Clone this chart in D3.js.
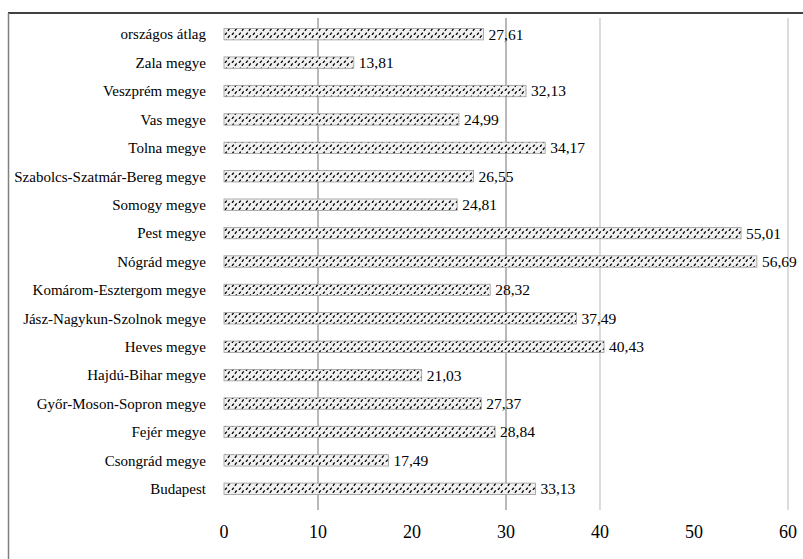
<!DOCTYPE html>
<html><head><meta charset="utf-8">
<script src="https://cdn.jsdelivr.net/npm/d3@7"></script>
<style>body{margin:0;background:#fff}svg{display:block}</style>
</head><body><svg id="c" width="803" height="559"></svg>
<script>
const categories = ["országos átlag","Zala megye","Veszprém megye","Vas megye","Tolna megye","Szabolcs-Szatmár-Bereg megye","Somogy megye","Pest megye","Nógrád megye","Komárom-Esztergom megye","Jász-Nagykun-Szolnok megye","Heves megye","Hajdú-Bihar megye","Győr-Moson-Sopron megye","Fejér megye","Csongrád megye","Budapest"];
const values = [27.61,13.81,32.13,24.99,34.17,26.55,24.81,55.01,56.69,28.32,37.49,40.43,21.03,27.37,28.84,17.49,33.13];
const valueLabels = ["27,61","13,81","32,13","24,99","34,17","26,55","24,81","55,01","56,69","28,32","37,49","40,43","21,03","27,37","28,84","17,49","33,13"];
const ticks = [0,10,20,30,40,50,60];
const gridValues = [10,30,40,60];

const svg = d3.select("#c");
const FONT = '"Liberation Serif", "Times New Roman", serif';
const x = d3.scaleLinear().domain([0,60]).range([224,788]);
const y = d3.scaleBand().domain(categories).range([20,503]).paddingInner(0.6).paddingOuter(0.3);

const defs = svg.append("defs");
const p = defs.append("pattern").attr("id","hatch").attr("patternUnits","userSpaceOnUse")
  .attr("width",7).attr("height",7);
p.append("rect").attr("width",7).attr("height",7).attr("fill","#f0f0f0");
p.append("line").attr("x1",1).attr("y1",7).attr("x2",6).attr("y2",0)
  .attr("stroke","#000").attr("stroke-width",1.3).attr("stroke-dasharray","3,2");

// border
svg.append("line").attr("x1",8).attr("x2",803).attr("y1",13).attr("y2",13).attr("stroke","#000").attr("stroke-width",1.5);
svg.append("line").attr("x1",8.5).attr("x2",8.5).attr("y1",13).attr("y2",559).attr("stroke","#808080").attr("stroke-width",1.5);

// gridlines
svg.append("g").selectAll("line").data(gridValues).join("line")
  .attr("x1",d=>x(d)).attr("x2",d=>x(d)).attr("y1",18).attr("y2",510)
  .attr("stroke",d=> d<=30 ? "#8a8a8a" : "#c4c4c4").attr("stroke-width",1.2);

// bars
svg.append("g").selectAll("rect").data(values).join("rect")
  .attr("x",x(0)).attr("y",(d,i)=>y(categories[i]))
  .attr("width",d=>x(d)-x(0)).attr("height",y.bandwidth())
  .attr("fill","url(#hatch)").attr("stroke","#9a9a9a").attr("stroke-width",0.8);

// value labels
svg.append("g").selectAll("text").data(values).join("text")
  .attr("x",d=>x(d)+5).attr("y",(d,i)=>y(categories[i])+y.bandwidth()/2)
  .attr("dy","0.35em").attr("font-size",15.5).attr("fill","#000").style("font-family",FONT)
  .text((d,i)=>valueLabels[i]);

// category labels
svg.append("g").selectAll("text").data(categories).join("text")
  .attr("x",206).attr("y",d=>y(d)+y.bandwidth()/2).attr("dy","0.35em")
  .attr("text-anchor","end").attr("font-size",15).attr("fill","#000").style("font-family",FONT)
  .text(d=>d);

// x axis labels
svg.append("g").selectAll("text").data(ticks).join("text")
  .attr("x",d=>x(d)).attr("y",532).attr("dy","0.35em").attr("text-anchor","middle")
  .attr("font-size",18).attr("fill","#000").style("font-family",FONT).text(d=>d);
</script></body></html>
